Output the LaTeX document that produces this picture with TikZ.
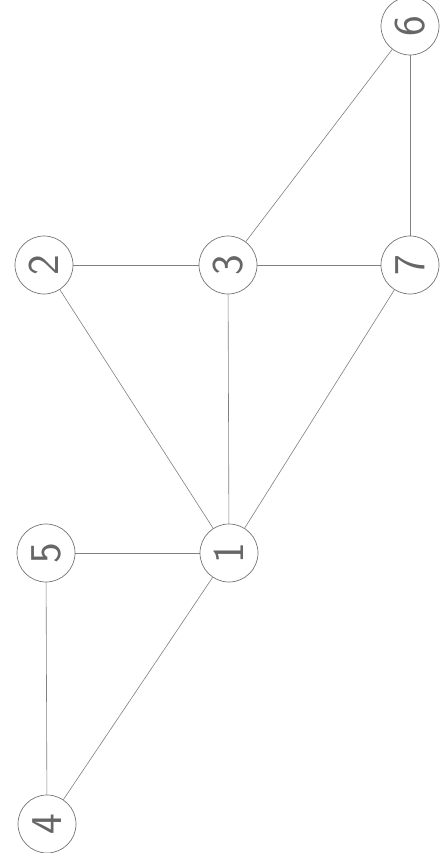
\documentclass[tikz,border=0pt]{standalone}
\begin{document}
\begin{tikzpicture}[x=1pt,y=-1pt,
  vert/.style={circle,draw=black!55,line width=0.7pt,minimum size=58pt,inner sep=0pt,
    font=\sffamily\fontsize{44}{44}\selectfont,text=black!60,rotate=90},
  edge/.style={draw=black!50,line width=0.6pt}]
\fill[white] (0,0) rectangle (442,853);
\useasboundingbox (0,0) rectangle (442,853);
\node[vert] (n6) at (410,26) {6};
\node[vert] (n2) at (44,265) {2};
\node[vert] (n3) at (228,265) {3};
\node[vert] (n7) at (410,265) {7};
\node[vert] (n5) at (46,553) {5};
\node[vert] (n1) at (229,553) {1};
\node[vert] (n4) at (47,824) {4};
\draw[edge] (n2) -- (n3);
\draw[edge] (n3) -- (n7);
\draw[edge] (n7) -- (n6);
\draw[edge] (n3) -- (n6);
\draw[edge] (n2) -- (n1);
\draw[edge] (n3) -- (n1);
\draw[edge] (n7) -- (n1);
\draw[edge] (n5) -- (n1);
\draw[edge] (n5) -- (n4);
\draw[edge] (n4) -- (n1);
\end{tikzpicture}
\end{document}
